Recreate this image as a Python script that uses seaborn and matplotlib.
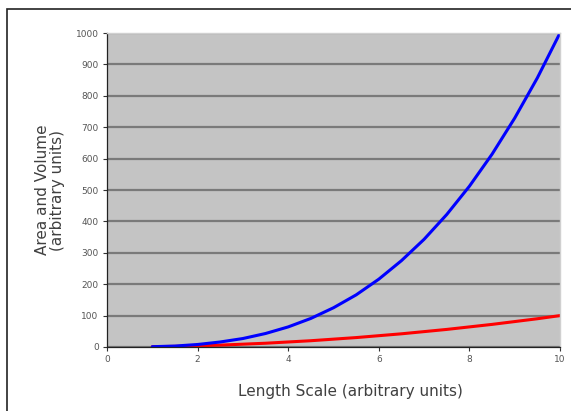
import pandas as pd
import matplotlib.pyplot as plt
import matplotlib.patches as patches
import seaborn as sns

# datos
length = [1, 1.5, 2, 2.5, 3, 3.5, 4, 4.5, 5, 5.5, 6, 6.5, 7, 7.5, 8, 8.5, 9, 9.5, 10]
area = [1, 2, 4, 6, 9, 12, 16, 20, 25, 30, 36, 42, 49, 56, 64, 72, 81, 90, 100]
volume = [1, 3, 8, 16, 27, 43, 64, 91, 125, 166, 216, 275, 343, 422, 512, 614, 729, 857, 1000]

df = pd.DataFrame({
    'length': length * 2,
    'value': area + volume,
    'serie': ['Area'] * len(area) + ['Volume'] * len(volume),
})

sns.set_style("ticks", {"axes.facecolor": "#c4c4c4"})
plt.rcParams['font.family'] = ['DejaVu Sans']

fig = plt.figure(figsize=(5.71, 4.11), dpi=100)
ax = fig.add_axes([107/571, 1 - 347/411, (560 - 107)/571, (347 - 33)/411])

sns.lineplot(data=df, x='length', y='value', hue='serie',
             palette={'Area': '#ff0000', 'Volume': '#0000ff'},
             linewidth=2.2, legend=False, ax=ax)

ax.set_xlim(0, 10)
ax.set_ylim(0, 1000)
ax.set_xticks(range(0, 11, 2))
ax.set_yticks(range(0, 1001, 100))
ax.yaxis.grid(True, color='#7a7a7a', linewidth=1.6)
ax.set_axisbelow(True)
ax.tick_params(axis='both', labelsize=6.5, labelcolor='#555555', length=3,
               width=0.8, color='#333333', pad=3)

for s in ['top', 'right']:
    ax.spines[s].set_visible(True)
    ax.spines[s].set_color('#d0d0d0')
    ax.spines[s].set_linewidth(1)
for s in ['left', 'bottom']:
    ax.spines[s].set_color('#222222')
    ax.spines[s].set_linewidth(0.9)

ax.set_xlabel('Length Scale (arbitrary units)', fontsize=11, color='#404040')
# etiqueta x un poco a la derecha, como en el original
ax.xaxis.set_label_coords((350 - 107) / 453, -(384 - 347) / 314)
ax.set_ylabel('Area and Volume\n(arbitrary units)', fontsize=11, color='#404040',
              labelpad=8, linespacing=0.95)

# marco de la figura
fig.patches.append(patches.Rectangle((7/571, -0.2), 1.2, 1.2 - 9/411,
                                     transform=fig.transFigure, fill=False,
                                     edgecolor='#222222', linewidth=1.2))

plt.savefig('out.png', dpi=100)
